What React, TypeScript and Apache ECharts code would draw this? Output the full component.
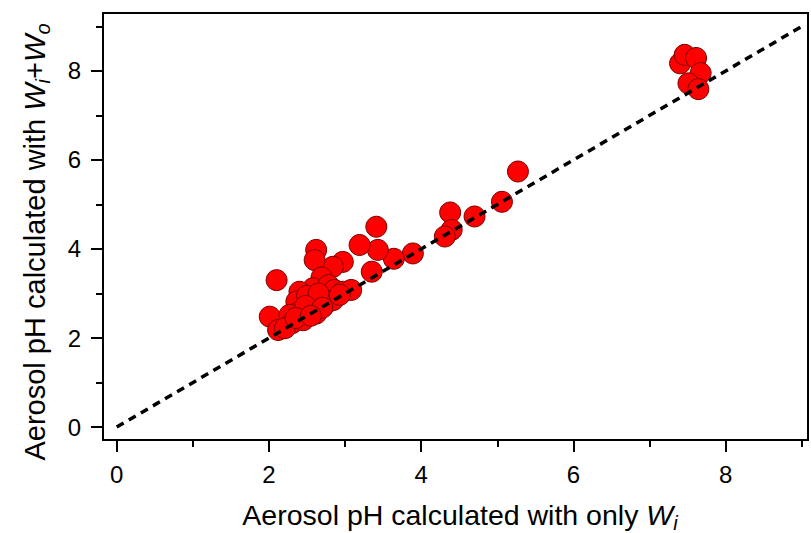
import React, { useEffect, useRef } from "react";
import * as echarts from "echarts";

const xMajorTicks = [0, 2, 4, 6, 8];
const xMinorTicks = [1, 3, 5, 7, 9];
const yMajorTicks = [0, 2, 4, 6, 8];
const yMinorTicks = [1, 3, 5, 7, 9];

const pHOnlyWi = [
  7.40, 7.46, 7.61, 7.67, 7.51, 7.64,
  5.27, 5.06, 4.70, 4.38, 4.40, 4.31, 3.89, 3.64, 3.43, 3.41, 3.19, 3.35, 2.97, 2.84,
  2.62, 2.60, 2.10, 2.69, 2.58, 2.40, 2.78, 2.86, 2.97, 3.08,
  2.01, 2.36, 2.58, 2.40, 2.27, 2.58, 2.73, 2.84, 2.93, 2.30, 2.12, 2.45, 2.62, 2.21,
  2.50, 2.65, 2.48, 2.70, 2.35, 2.55,
];
const pHWiWo = [
  8.17, 8.36, 8.29, 7.95, 7.72, 7.59,
  5.74, 5.06, 4.73, 4.82, 4.43, 4.28, 3.90, 3.78, 3.98, 4.50, 4.09, 3.49, 3.71, 3.60,
  3.98, 3.75, 3.30, 3.36, 3.12, 3.04, 3.19, 3.08, 3.04, 3.08,
  2.48, 2.82, 2.85, 2.59, 2.52, 2.63, 2.74, 2.85, 2.97, 2.33, 2.18, 2.40, 2.55, 2.22,
  2.95, 3.00, 2.72, 2.68, 2.45, 2.50,
];
const oneToOne = [
  [0, 0],
  [9, 9],
];

const FONT = "Liberation Sans, Arial, sans-serif";

function makeRich(size: number, subSize: number) {
  return {
    n: { fontSize: size, fontFamily: FONT, color: "#000", lineHeight: 30 },
    w: { fontSize: size, fontFamily: FONT, color: "#000", fontStyle: "italic", lineHeight: 30 },
    s: { fontSize: subSize, fontFamily: FONT, color: "#000", fontStyle: "italic", lineHeight: 14, padding: [16, 0, 0, 0] },
  };
}

export default function App() {
  const ref = useRef<HTMLDivElement>(null);
  useEffect(() => {
    if (!ref.current) return;
    const chart = echarts.init(ref.current, undefined, { renderer: "svg" });
    const points = pHOnlyWi.map((x, i) => [x, pHWiWo[i]]);
    const xRange = { min: -0.18, max: 9.08 };
    const yRange = { min: -0.29, max: 9.3 };
    chart.setOption({
      animation: false,
      backgroundColor: "#fff",
      grid: {
        left: 103,
        right: 3,
        top: 13,
        bottom: 93,
        show: true,
        borderColor: "#000",
        borderWidth: 2,
      },
      xAxis: [
        {
          type: "value",
          ...xRange,
          axisLine: { show: true, onZero: false, lineStyle: { color: "#000", width: 2 } },
          axisTick: { show: true, customValues: xMajorTicks, length: 12, lineStyle: { color: "#000", width: 2 } },
          axisLabel: { customValues: xMajorTicks, margin: 22, fontSize: 24, fontFamily: FONT, color: "#000" },
          splitLine: { show: false },
        },
        {
          type: "value",
          position: "bottom",
          ...xRange,
          axisLine: { show: false, onZero: false },
          axisTick: { show: true, customValues: xMinorTicks, length: 7, lineStyle: { color: "#000", width: 2 } },
          axisLabel: { show: false },
          splitLine: { show: false },
        },
      ],
      yAxis: [
        {
          type: "value",
          ...yRange,
          axisLine: { show: true, onZero: false, lineStyle: { color: "#000", width: 2 } },
          axisTick: { show: true, customValues: yMajorTicks, length: 12, lineStyle: { color: "#000", width: 2 } },
          axisLabel: { customValues: yMajorTicks, margin: 22, fontSize: 24, fontFamily: FONT, color: "#000" },
          splitLine: { show: false },
        },
        {
          type: "value",
          position: "left",
          ...yRange,
          axisLine: { show: false, onZero: false },
          axisTick: { show: true, customValues: yMinorTicks, length: 7, lineStyle: { color: "#000", width: 2 } },
          axisLabel: { show: false },
          splitLine: { show: false },
        },
      ],
      graphic: [
        {
          type: "text",
          x: 460,
          y: 515,
          style: {
            text: "{n|Aerosol pH calculated with only }{w|W}{s|i}",
            rich: makeRich(28.5, 20),
            align: "center",
            verticalAlign: "middle",
          },
        },
        {
          type: "text",
          x: 35,
          y: 242,
          rotation: Math.PI / 2,
          style: {
            text: "{n|Aerosol pH calculated with }{w|W}{s|i}{n|+}{w|W}{s|o}",
            rich: makeRich(29, 20),
            align: "center",
            verticalAlign: "middle",
          },
        },
      ],
      series: [
        {
          type: "scatter",
          data: points,
          symbol: "circle",
          symbolSize: 21,
          itemStyle: { color: "#ff0000", borderColor: "#7a0000", borderWidth: 1, opacity: 1 },
          z: 2,
        },
        {
          type: "line",
          data: oneToOne,
          symbol: "none",
          lineStyle: { color: "#000", width: 3.5, type: [8, 6] },
          z: 3,
        },
      ],
    });
    return () => chart.dispose();
  }, []);
  return <div ref={ref} style={{ width: 811, height: 533, position: "absolute", left: 0, top: 0 }} />;
}
